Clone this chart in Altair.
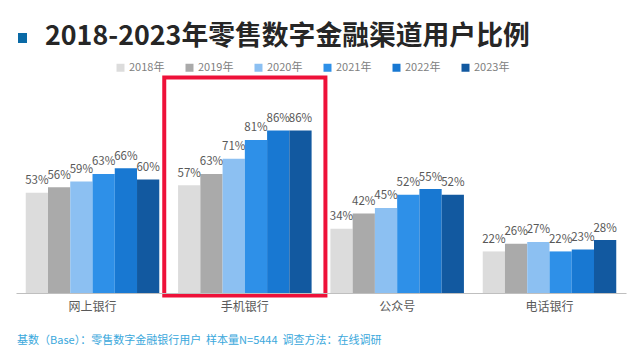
import altair as alt
import pandas as pd

categories = ["网上银行", "手机银行", "公众号", "电话银行"]
years = ["2018年", "2019年", "2020年", "2021年", "2022年", "2023年"]
v2018 = [53, 57, 34, 22]
v2019 = [56, 63, 42, 26]
v2020 = [59, 71, 45, 27]
v2021 = [63, 81, 52, 22]
v2022 = [66, 86, 55, 23]
v2023 = [60, 86, 52, 28]
colors = ["#dcdcdc", "#aaaaaa", "#8cc0f2", "#2e90e8", "#1878d2", "#1259a0"]
title_text = "2018-2023年零售数字金融渠道用户比例"
footer_text = "基数（Base）：零售数字金融银行用户\u00a0\u00a0样本量N=5444\u00a0\u00a0调查方法：在线调研"
highlight = ["手机银行"]

series = [v2018, v2019, v2020, v2021, v2022, v2023]
rows = []
for y, vals in zip(years, series):
    for c, v in zip(categories, vals):
        rows.append({"channel": c, "year": y, "value": v, "label": f"{v}%"})
df = pd.DataFrame(rows)

FONT = "Noto Sans CJK SC"
W, H = 610, 189

x_enc = alt.X(
    "channel:N",
    sort=categories,
    scale=alt.Scale(paddingInner=0.1234, paddingOuter=0.064),
    axis=alt.Axis(
        title=None, labelAngle=0, ticks=False, domainColor="#bfbfbf",
        domainWidth=1, labelColor="#595959", labelFontSize=12, labelPadding=8,
        labelFont=FONT, grid=False,
    ),
)
xo_enc = alt.XOffset("year:N", sort=years, scale=alt.Scale(paddingInner=0, paddingOuter=0))
y_enc = alt.Y("value:Q", scale=alt.Scale(domain=[0, 100]), axis=None)

base = alt.Chart(df)

bars = base.mark_bar().encode(
    x=x_enc,
    xOffset=xo_enc,
    y=y_enc,
    color=alt.Color(
        "year:N",
        sort=years,
        scale=alt.Scale(domain=years, range=colors),
        legend=alt.Legend(
            title=None, orient="none", legendX=99, legendY=-42, direction="horizontal",
            symbolType="square", symbolSize=64, symbolStrokeWidth=0,
            labelFontSize=11, labelColor="#808080", labelFont=FONT, labelOffset=3,
            columnPadding=19, padding=0,
        ),
    ),
)

labels = base.mark_text(
    baseline="alphabetic", dy=-8.5, fontSize=11.5, color="#595959", font=FONT
).encode(x=x_enc, xOffset=xo_enc, y=y_enc, text="label:N")

box = alt.Chart(pd.DataFrame({"channel": highlight})).mark_rect(
    filled=False, stroke="#ee1139", strokeWidth=4,
    width=alt.RelativeBandSize(band=1.207),
).encode(x=x_enc, y=alt.value(-26.5), y2=alt.value(191.5))

title = alt.Chart(pd.DataFrame({"t": [title_text]})).mark_text(
    align="left", baseline="alphabetic", fontSize=26.8, fontWeight="bold",
    color="#262626", font=FONT,
).encode(text="t:N", x=alt.value(29), y=alt.value(-59))

square = alt.Chart(pd.DataFrame({"k": [1]})).mark_rect(color="#0a6aa6").encode(
    x=alt.value(2), x2=alt.value(11), y=alt.value(-71), y2=alt.value(-61)
)

footer = alt.Chart(pd.DataFrame({"t": [footer_text]})).mark_text(
    align="left", baseline="alphabetic", fontSize=11, color="#3aa8dc", font=FONT,
).encode(text="t:N", x=alt.value(1), y=alt.value(240))

chart = (
    alt.layer(box, bars, labels, title, square, footer)
    .properties(
        width=W, height=H,
        autosize=alt.AutoSizeParams(type="none"),
        padding={"left": 8, "top": 96, "right": 6, "bottom": 60},
    )
    .configure(font=FONT)
    .configure_view(strokeWidth=0, stroke="transparent")
    .configure_axis(grid=False)
)

chart.save("out.html", embed_options={"renderer": "svg", "actions": False})
